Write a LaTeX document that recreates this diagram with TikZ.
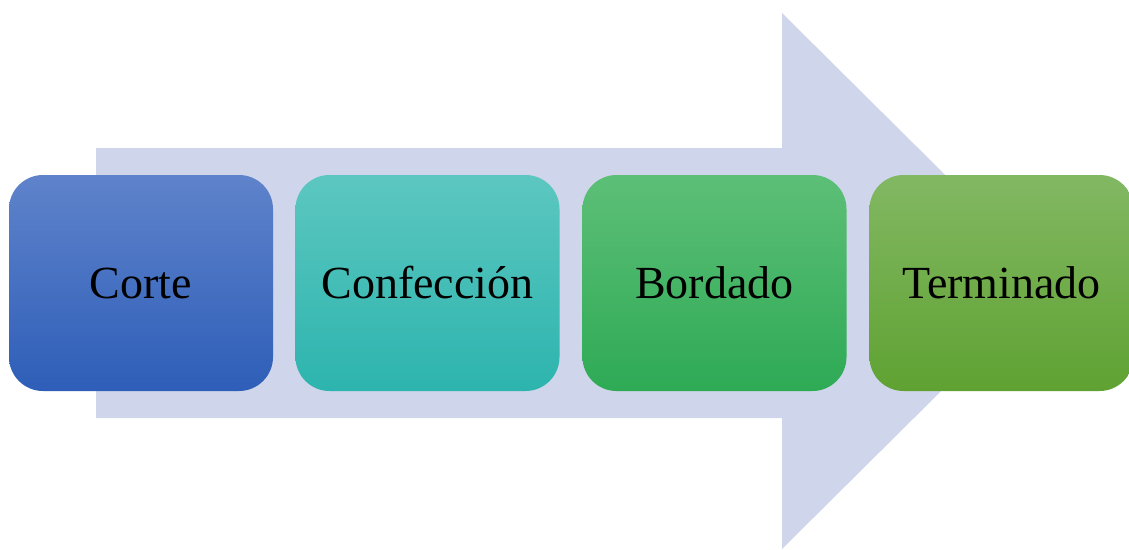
\documentclass[tikz,border=0pt]{standalone}
\usepackage{fontspec}
\setmainfont{Liberation Serif}
\definecolor{arrowcol}{HTML}{CFD5EA}
\definecolor{bAt}{HTML}{5F83CB}\definecolor{bAm}{HTML}{4170CA}\definecolor{bAb}{HTML}{2E5EB8}
\definecolor{bBt}{HTML}{5CC7C0}\definecolor{bBm}{HTML}{3FC2BC}\definecolor{bBb}{HTML}{2DB4AE}
\definecolor{bCt}{HTML}{5DBF77}\definecolor{bCm}{HTML}{3EB960}\definecolor{bCb}{HTML}{2EAA55}
\definecolor{bDt}{HTML}{82B863}\definecolor{bDm}{HTML}{6FB043}\definecolor{bDb}{HTML}{5FA232}
\tikzset{
  stagebox/.style={draw=none, rounded corners=34pt, minimum width=264pt, minimum height=216pt,
    inner sep=0pt, font=\fontsize{46}{55}\selectfont, text=black},
}
\begin{document}
\begin{tikzpicture}[x=1pt,y=-1pt]
\useasboundingbox (0,0) rectangle (1129,549);
\clip (0,0) rectangle (1129,549);
\fill[arrowcol] (96,148) -- (782,148) -- (782,13) -- (1052,281) -- (782,549) -- (782,418) -- (96,418) -- cycle;
\node[stagebox, top color=bAt, middle color=bAm, bottom color=bAb] (corte) at (141,283) {Corte};
\node[stagebox, top color=bBt, middle color=bBm, bottom color=bBb] (confeccion) at (427.5,283) {Confección};
\node[stagebox, top color=bCt, middle color=bCm, bottom color=bCb] (bordado) at (714.5,283) {Bordado};
\node[stagebox, top color=bDt, middle color=bDm, bottom color=bDb] (terminado) at (1001.5,283) {Terminado};
\end{tikzpicture}
\end{document}
